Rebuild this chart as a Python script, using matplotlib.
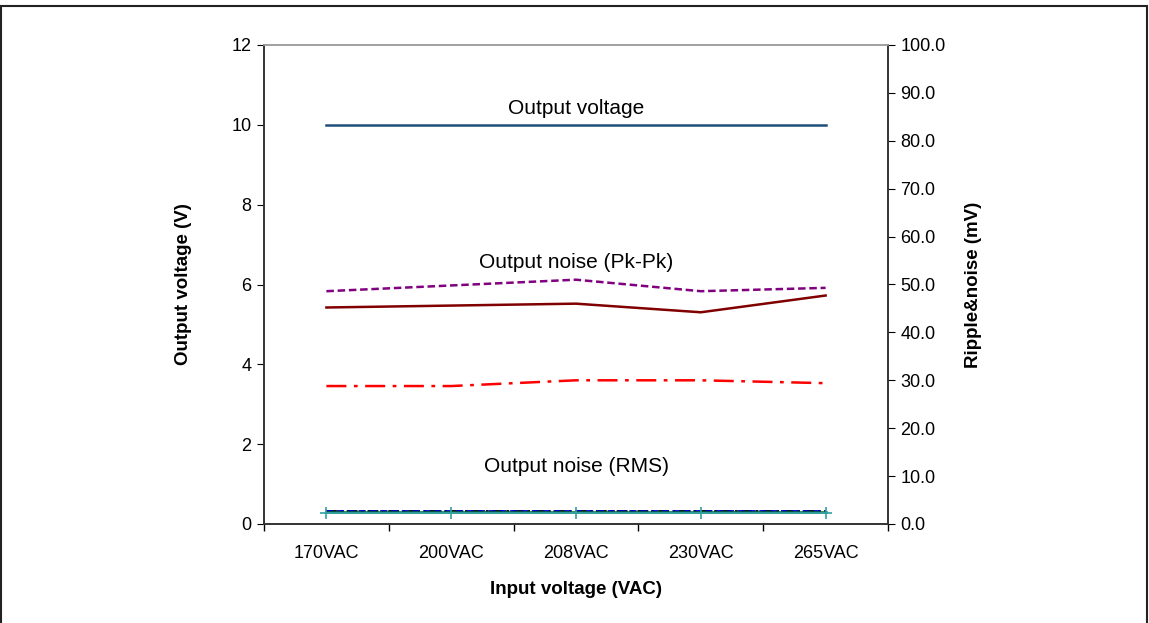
import matplotlib
matplotlib.use("Agg")
import matplotlib.pyplot as plt
from matplotlib.patches import Rectangle
import numpy as np

plt.rcParams['font.family'] = ['Liberation Sans', 'DejaVu Sans']

categories = ["170VAC", "200VAC", "208VAC", "230VAC", "265VAC"]
output_voltage = [10.0, 10.0, 10.0, 10.0, 10.0]          # V, left axis
pkpk_purple = [48.6, 49.8, 51.0, 48.6, 49.3]             # mV, right axis
pkpk_maroon = [45.2, 45.6, 46.0, 44.2, 47.7]             # mV
red_dashdot = [28.8, 28.8, 30.0, 30.0, 29.4]             # mV
rms_black = [2.8, 2.8, 2.8, 2.8, 2.8]                    # mV
rms_blue = [2.7, 2.7, 2.7, 2.7, 2.7]                     # mV
rms_green = [2.5, 2.5, 2.5, 2.5, 2.5]                    # mV
rms_teal = [2.4, 2.4, 2.4, 2.4, 2.4]                     # mV

fig = plt.figure(figsize=(11.49, 6.23), dpi=100)
# outer frame
fig.patches.append(Rectangle((0.0005, -0.01), 0.998, 1 - 6/623 + 0.01, transform=fig.transFigure,
                             fill=False, edgecolor='#222222', linewidth=1.5))

ax = fig.add_axes([264/1149, 1 - 524/623, 624/1149, 479/623])
ax2 = ax.twinx()

x = np.arange(len(categories))
ax.plot(x, output_voltage, color='#1F4E79', lw=1.8)
ax.set_xlim(-0.5, len(categories) - 0.5)
ax.set_ylim(0, 12)
ax.set_yticks(np.arange(0, 13, 2))

ax2.plot(x, pkpk_purple, color='#800080', lw=1.8, ls=(0, (3, 1.5)))
ax2.plot(x, pkpk_maroon, color='#800000', lw=1.8)
ax2.plot(x, red_dashdot, color='#FF0000', lw=1.8, ls=(0, (8, 3, 1.5, 3)))
ax2.plot(x, rms_black, color='#000000', lw=1.3, ls=(0, (6, 2, 1.5, 2)))
ax2.plot(x, rms_blue, color='#0000CC', lw=1.3, ls=(0, (4, 2)))
ax2.plot(x, rms_green, color='#006633', lw=1.8)
ax2.plot(x, rms_teal, color='#33A0A0', lw=1.3, marker='+', markersize=9, markeredgewidth=1.2)
ax2.set_ylim(0, 100)
ax2.set_yticks(np.arange(0, 101, 10))
ax2.set_yticklabels([f"{v:.1f}" for v in np.arange(0, 101, 10)])

ax.set_xticks(np.arange(-0.5, len(categories), 1))
ax.set_xticklabels([])
ax.set_xticks(x, minor=True)
ax.set_xticklabels(categories, minor=True)
ax.tick_params(axis='x', which='minor', length=0, pad=15, labelsize=13)
ax.tick_params(axis='x', which='major', length=5, direction='out', width=1)
ax.tick_params(axis='y', length=5, direction='out', labelsize=13, pad=4)
ax2.tick_params(axis='y', length=5, direction='out', labelsize=13, pad=4)

for a in (ax, ax2):
    a.spines['top'].set_color('#A0A0A0')
    a.spines['bottom'].set_color('#333333')
    a.spines['left'].set_color('#333333')
    a.spines['right'].set_color('#333333')
    for s in a.spines.values():
        s.set_linewidth(1.2)

ax.set_xlabel("Input voltage (VAC)", fontsize=13.5, fontweight='bold', labelpad=14)
ax.set_ylabel("Output voltage (V)", fontsize=13.5, fontweight='bold', labelpad=28)
ax2.set_ylabel("Ripple&noise (mV)", fontsize=13.5, fontweight='bold', labelpad=14)

ax.text(2, 10.42, "Output voltage", ha='center', va='center', fontsize=15)
ax.text(2, 6.54, "Output noise (Pk-Pk)", ha='center', va='center', fontsize=15)
ax.text(2, 1.43, "Output noise (RMS)", ha='center', va='center', fontsize=15)

fig.savefig("out.png", dpi=100)
